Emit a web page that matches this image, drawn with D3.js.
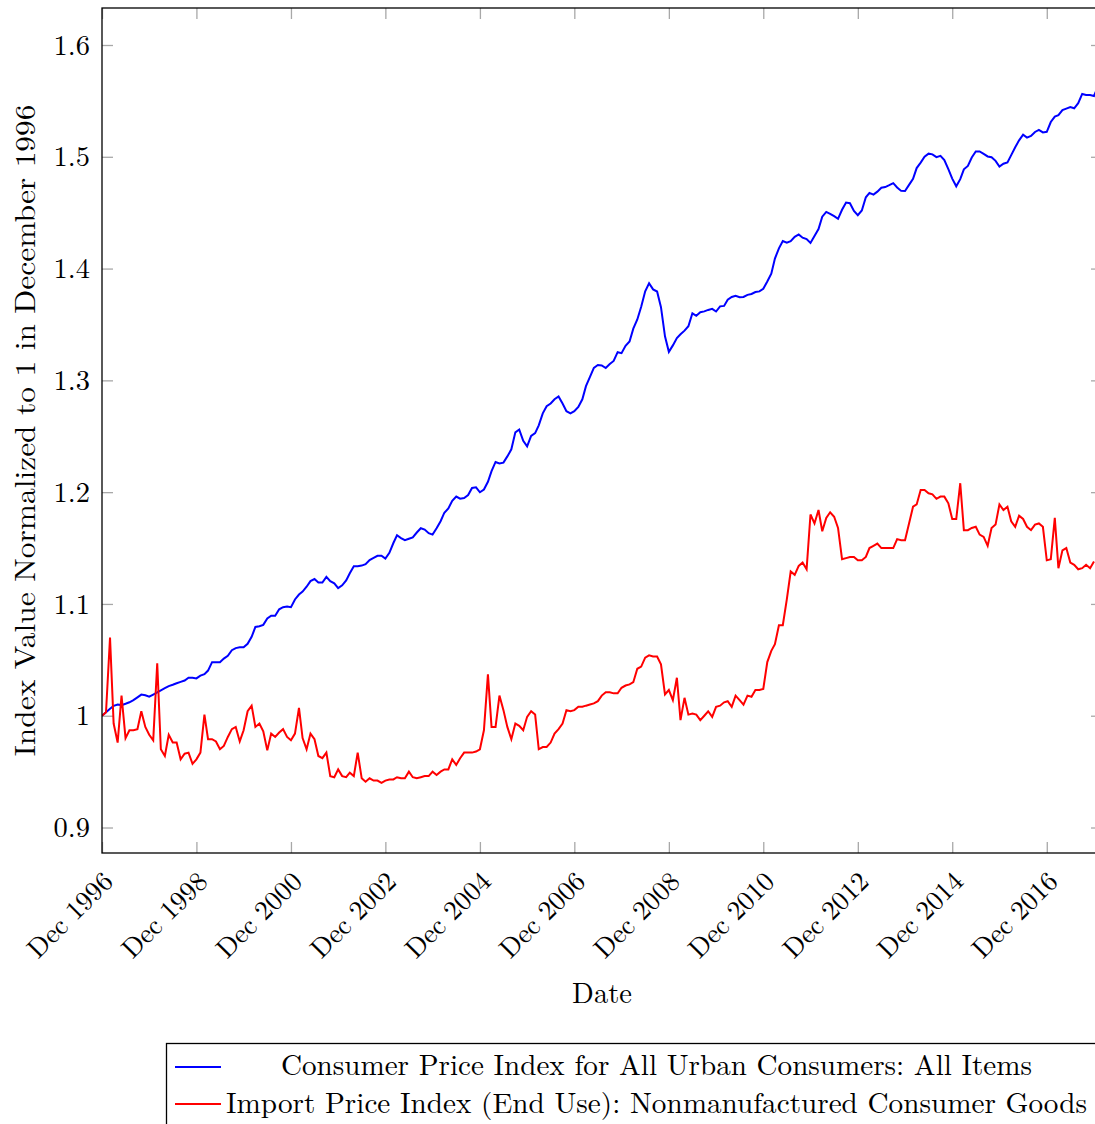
<!DOCTYPE html>
<html>
<head>
<meta charset="utf-8">
<script src="https://cdn.jsdelivr.net/npm/d3@7"></script>
<style>
  html, body { margin: 0; padding: 0; background: #ffffff; }
  svg { display: block; }
  text { font-family: "Latin Modern Roman", "CMU Serif", "Liberation Serif", serif; fill: #000; }
</style>
</head>
<body>
<svg id="chart" width="1095" height="1124"></svg>
<script>
// Monthly observations, first one is December 1996 (= 1 for both series)
const startMonth = new Date(1996, 11, 1);

// CPI-U, all items, index normalized to Dec 1996 (one row per year)
const cpiAllItems = [
  1.0000,
  1.0032,1.0063,1.0088,1.0101,1.0095,1.0107,1.0120,1.0139,1.0164,1.0189,1.0183,1.0170,
  1.0189,1.0208,1.0227,1.0246,1.0265,1.0277,1.0290,1.0303,1.0315,1.0340,1.0340,1.0334,
  1.0359,1.0372,1.0404,1.0479,1.0479,1.0479,1.0511,1.0536,1.0586,1.0605,1.0612,1.0612,
  1.0643,1.0706,1.0794,1.0801,1.0813,1.0870,1.0895,1.0895,1.0952,1.0971,1.0977,1.0971,
  1.1040,1.1084,1.1110,1.1154,1.1204,1.1223,1.1192,1.1192,1.1242,1.1204,1.1185,1.1141,
  1.1166,1.1211,1.1274,1.1337,1.1337,1.1343,1.1356,1.1393,1.1412,1.1431,1.1431,1.1406,
  1.1457,1.1545,1.1614,1.1589,1.1570,1.1583,1.1595,1.1639,1.1677,1.1665,1.1633,1.1620,
  1.1677,1.1740,1.1816,1.1854,1.1923,1.1961,1.1942,1.1948,1.1974,1.2037,1.2043,1.1999,
  1.2024,1.2093,1.2188,1.2270,1.2257,1.2264,1.2320,1.2383,1.2535,1.2560,1.2459,1.2409,
  1.2503,1.2528,1.2598,1.2705,1.2768,1.2793,1.2831,1.2856,1.2793,1.2724,1.2705,1.2724,
  1.2763,1.2831,1.2948,1.3032,1.3112,1.3137,1.3134,1.3110,1.3146,1.3174,1.3252,1.3243,
  1.3309,1.3348,1.3463,1.3545,1.3659,1.3797,1.3869,1.3814,1.3795,1.3655,1.3394,1.3255,
  1.3313,1.3379,1.3412,1.3445,1.3484,1.3600,1.3578,1.3609,1.3617,1.3630,1.3640,1.3616,
  1.3662,1.3666,1.3722,1.3746,1.3757,1.3743,1.3746,1.3765,1.3773,1.3790,1.3796,1.3820,
  1.3885,1.3954,1.4090,1.4181,1.4247,1.4232,1.4245,1.4284,1.4306,1.4276,1.4264,1.4229,
  1.4292,1.4354,1.4464,1.4507,1.4490,1.4469,1.4445,1.4526,1.4591,1.4585,1.4516,1.4477,
  1.4520,1.4638,1.4677,1.4662,1.4688,1.4723,1.4729,1.4746,1.4764,1.4726,1.4695,1.4694,
  1.4749,1.4803,1.4899,1.4948,1.5000,1.5028,1.5022,1.4997,1.5008,1.4971,1.4890,1.4805,
  1.4736,1.4800,1.4888,1.4918,1.4994,1.5047,1.5048,1.5026,1.5003,1.4996,1.4964,1.4913,
  1.4938,1.4950,1.5015,1.5086,1.5147,1.5197,1.5172,1.5186,1.5222,1.5241,1.5218,1.5223,
  1.5311,1.5360,1.5372,1.5418,1.5431,1.5445,1.5434,1.5480,1.5562,1.5553,1.5553,1.5544,
  1.5628
];

// Import price index, nonmanufactured consumer goods, normalized to Dec 1996
const importNonmfgConsumer = [
  1.000,
  1.003,1.070,0.993,0.976,1.018,0.980,0.987,0.987,0.988,1.004,0.990,0.983,
  0.978,1.047,0.970,0.964,0.983,0.976,0.976,0.961,0.966,0.967,0.957,0.961,
  0.967,1.001,0.979,0.979,0.977,0.970,0.973,0.981,0.988,0.990,0.977,0.987,
  1.004,1.009,0.990,0.993,0.986,0.969,0.984,0.981,0.985,0.988,0.981,0.978,
  0.984,1.007,0.980,0.970,0.984,0.979,0.964,0.962,0.967,0.946,0.945,0.952,
  0.946,0.945,0.949,0.946,0.967,0.944,0.941,0.944,0.942,0.942,0.940,0.942,
  0.943,0.943,0.945,0.944,0.944,0.950,0.945,0.944,0.945,0.946,0.946,0.950,
  0.947,0.950,0.952,0.952,0.961,0.956,0.962,0.967,0.967,0.967,0.968,0.970,
  0.987,1.037,0.990,0.990,1.018,1.005,0.990,0.979,0.993,0.991,0.987,0.999,
  1.004,1.001,0.970,0.972,0.972,0.976,0.984,0.988,0.993,1.005,1.004,1.005,
  1.008,1.008,1.009,1.010,1.011,1.013,1.018,1.021,1.021,1.020,1.020,1.025,
  1.027,1.028,1.030,1.042,1.044,1.052,1.054,1.053,1.053,1.046,1.019,1.023,
  1.014,1.034,0.996,1.016,1.001,1.002,1.001,0.996,1.000,1.004,0.999,1.008,
  1.009,1.012,1.013,1.008,1.018,1.014,1.010,1.018,1.017,1.023,1.023,1.024,
  1.048,1.058,1.064,1.081,1.081,1.104,1.129,1.126,1.134,1.137,1.131,1.180,
  1.172,1.184,1.165,1.177,1.182,1.178,1.168,1.140,1.141,1.142,1.142,1.139,
  1.139,1.142,1.150,1.152,1.154,1.150,1.150,1.150,1.150,1.158,1.157,1.157,
  1.172,1.187,1.189,1.202,1.202,1.199,1.198,1.194,1.196,1.196,1.190,1.176,
  1.176,1.208,1.166,1.166,1.168,1.169,1.162,1.160,1.152,1.168,1.171,1.189,
  1.184,1.187,1.174,1.169,1.179,1.176,1.169,1.166,1.171,1.172,1.169,1.139,
  1.140,1.177,1.132,1.148,1.150,1.137,1.135,1.131,1.132,1.135,1.132,1.138
];

const yTickValues = [0.9, 1.0, 1.1, 1.2, 1.3, 1.4, 1.5, 1.6];
const yTickLabels = ["0.9", "1", "1.1", "1.2", "1.3", "1.4", "1.5", "1.6"];
const xTickYears  = [1996, 1998, 2000, 2002, 2004, 2006, 2008, 2010, 2012, 2014, 2016];
const xTickLabels = ["Dec 1996", "Dec 1998", "Dec 2000", "Dec 2002", "Dec 2004", "Dec 2006",
                     "Dec 2008", "Dec 2010", "Dec 2012", "Dec 2014", "Dec 2016"];
const seriesNames = [
  "Consumer Price Index for All Urban Consumers: All Items",
  "Import Price Index (End Use): Nonmanufactured Consumer Goods"
];
const seriesColors = ["#0000ff", "#ff0000"];

// ---- geometry ----
const plot = { left: 102, right: 1102, top: 8, bottom: 853 };
const fontFamily = '"Latin Modern Roman", "CMU Serif", "Liberation Serif", serif';
const fontSize = 28.5;
const dateFontSize = 27.2;
const tickLen = 11;
const tickColor = "#a8a8a8";

const svg = d3.select("#chart");

const x = d3.scaleTime()
  .domain([startMonth, new Date(2018, 1, 1)])
  .range([plot.left, plot.right]);
const y = d3.scaleLinear()
  .domain([0.8772, 1.6331])
  .range([plot.bottom, plot.top]);

const toPoints = vals => vals.map((v, i) => ({ date: d3.timeMonth.offset(startMonth, i), value: v }));
const series = [toPoints(cpiAllItems), toPoints(importNonmfgConsumer)];

// clip data to the axis box
svg.append("defs").append("clipPath").attr("id", "plot-clip")
  .append("rect")
  .attr("x", plot.left).attr("y", plot.top)
  .attr("width", plot.right - plot.left).attr("height", plot.bottom - plot.top);

// ---- ticks (drawn inward on all four sides) ----
const xTickDates = xTickYears.map(yr => new Date(yr, 11, 1));

function styleAxis(g) {
  g.attr("font-family", null).attr("font-size", null);
  g.select(".domain").remove();
  g.selectAll(".tick line").attr("stroke", tickColor).attr("stroke-width", 1.3);
  g.selectAll("text")
    .style("font-size", fontSize + "px")
    .style("font-family", fontFamily)
    .attr("fill", "#000");
}

svg.append("g")
  .attr("transform", `translate(${plot.left},0)`)
  .call(d3.axisLeft(y).tickValues(yTickValues)
    .tickFormat((d, i) => yTickLabels[i])
    .tickSize(-tickLen).tickPadding(tickLen + 1))
  .call(styleAxis)
  .call(g => g.selectAll("text").attr("dy", "0.32em"));

svg.append("g")
  .attr("transform", `translate(${plot.right},0)`)
  .call(d3.axisRight(y).tickValues(yTickValues).tickFormat("").tickSize(-tickLen))
  .call(styleAxis);

svg.append("g")
  .attr("transform", `translate(0,${plot.top})`)
  .call(d3.axisTop(x).tickValues(xTickDates).tickFormat("").tickSize(-tickLen))
  .call(styleAxis);

const xAxisG = svg.append("g")
  .attr("transform", `translate(0,${plot.bottom})`)
  .call(d3.axisBottom(x).tickValues(xTickDates)
    .tickFormat((d, i) => xTickLabels[i]).tickSize(-tickLen))
  .call(styleAxis);

// rotated date labels, top-right corner hanging under each tick
xAxisG.selectAll(".tick text")
  .style("font-size", dateFontSize + "px")
  .attr("x", 0).attr("y", 0)
  .attr("dy", "0.68em")
  .attr("text-anchor", "end")
  .attr("transform", "translate(-1,17) rotate(-45)");

// ---- data lines ----
const line = d3.line()
  .x(d => x(d.date))
  .y(d => y(d.value));

svg.append("g").attr("clip-path", "url(#plot-clip)")
  .selectAll("path")
  .data(series)
  .join("path")
  .attr("d", line)
  .attr("fill", "none")
  .attr("stroke", (d, i) => seriesColors[i])
  .attr("stroke-width", 2);

// ---- axis frame ----
svg.append("rect")
  .attr("x", plot.left).attr("y", plot.top)
  .attr("width", plot.right - plot.left).attr("height", plot.bottom - plot.top)
  .attr("fill", "none").attr("stroke", "#000").attr("stroke-width", 1.3);

// ---- axis titles ----
svg.append("text")
  .attr("x", (plot.left + plot.right) / 2).attr("y", 1003)
  .attr("text-anchor", "middle")
  .style("font-size", fontSize + "px").style("font-family", fontFamily)
  .text("Date");

svg.append("text")
  .attr("transform", `translate(35,${(plot.top + plot.bottom) / 2}) rotate(-90)`)
  .attr("text-anchor", "middle")
  .attr("textLength", 652).attr("lengthAdjust", "spacingAndGlyphs")
  .style("font-size", fontSize + "px").style("font-family", fontFamily)
  .text("Index Value Normalized to 1 in December 1996");

// ---- legend ----
const legend = svg.append("g");
legend.append("rect")
  .attr("x", 166.5).attr("y", 1043.5)
  .attr("width", 940).attr("height", 100)
  .attr("fill", "#fff").attr("stroke", "#000").attr("stroke-width", 1.3);

const legendRows = [
  { y: 1067, base: 1075, width: 751 },
  { y: 1104, base: 1113, width: 861 }
];
legendRows.forEach((r, i) => {
  legend.append("line")
    .attr("x1", 175).attr("x2", 221)
    .attr("y1", r.y).attr("y2", r.y)
    .attr("stroke", seriesColors[i]).attr("stroke-width", 2);
  legend.append("text")
    .attr("x", 656.5).attr("y", r.base)
    .attr("text-anchor", "middle")
    .attr("textLength", r.width).attr("lengthAdjust", "spacingAndGlyphs")
    .style("font-size", fontSize + "px").style("font-family", fontFamily)
    .text(seriesNames[i]);
});
</script>
</body>
</html>
